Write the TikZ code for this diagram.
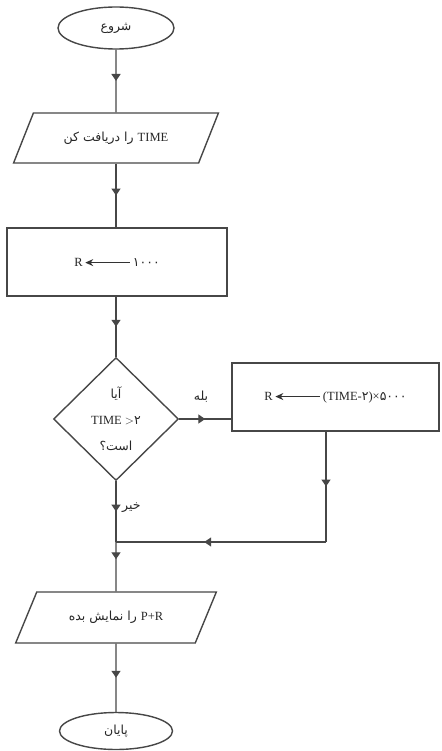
\documentclass[tikz,border=0pt]{standalone}
\usepackage{fontspec}
\setmainfont{Liberation Serif}
\newfontfamily\fa[Script=Arabic,Scale=1.0]{DejaVu Sans}
\TeXXeTstate=1
\usetikzlibrary{shapes.geometric,arrows.meta,decorations.markings,calc}
\newcommand\myarrow{\tikz[baseline=-0.6ex]\draw[line width=1.1pt,black!80,{Stealth[length=8pt,width=7pt]}-] (0pt,0pt) -- (45pt,0pt);}
\begin{document}
\begin{tikzpicture}[x=1pt,y=-1pt,
  line/.style={draw=black!72,line width=1.4pt},
  midarrow/.style={line,postaction={decorate},
    decoration={markings,mark=at position #1 with {\arrow[black!72]{Triangle[length=7pt,width=9pt]}}}},
  midarrow/.default=0.5,
  shape base/.style={line,text=black!85,font=\fontsize{12.5}{14}\selectfont,inner sep=0pt},
  term/.style={shape base,ellipse,minimum width=116pt,minimum height=42pt},
  io/.style={shape base,trapezium,trapezium left angle=45,trapezium right angle=135,
    trapezium stretches=true,minimum width=205pt,minimum height=50pt},
  proc/.style={shape base,rectangle,minimum width=220pt,minimum height=68pt},
  decision/.style={shape base,diamond,minimum width=125pt,minimum height=123pt,align=center,
    font=\fontsize{12.5}{26}\selectfont},
  lbl/.style={text=black!85,font=\fontsize{12.5}{14}\selectfont,inner sep=1pt}
]
\useasboundingbox (0,0) rectangle (441,751);

\node[term] (start) at (116,28) {\fa\beginR شروع\endR};
\node[io] (in) at (116,138) {\fa\beginR{\rmfamily TIME} را دریافت کن\endR};
\node[proc] (r1) at (117,262) {R\,\myarrow\,{\fa ۱۰۰۰}};
\node[decision] (d) at (116,419) {{\fa\beginR آیا\endR}\\TIME $>${\fa ۲}\\{\fa\beginR است؟\endR}};
\node[proc,minimum width=207pt] (r2) at (335.5,397) {R\,\myarrow\,(TIME-{\fa ۲})×{\fa ۵۰۰۰}};
\node[io,minimum width=201pt,minimum height=51pt] (out) at (116,617.5) {\fa\beginR{\rmfamily P+R} را نمایش بده\endR};
\node[term,minimum width=113pt,minimum height=37pt] (end) at (116,731) {\fa\beginR پایان\endR};

\node[lbl] (yes) at (201,397) {\fa\beginR بله\endR};
\node[lbl,anchor=west] (no) at (121,508) {\fa\beginR خیر\endR};

\coordinate (j) at (116,542);
\coordinate (rb) at (326,431);
\coordinate (rc) at (326,542);

\draw[midarrow] (start.south) -- (in.north);
\draw[midarrow] (in.south) -- (r1.north -| in.south);
\draw[midarrow] (r1.south -| d.north) -- (d.north);
\draw[midarrow] (d.east) -- (d.east -| r2.west);
\draw[midarrow] (d.south) -- (j);
\draw[midarrow] (rb) -- (rc);
\draw[midarrow=0.58] (rc) -- (j);
\draw[midarrow=0.35] (j) -- (out.north);
\draw[midarrow] (out.south) -- (end.north);
\end{tikzpicture}
\end{document}
